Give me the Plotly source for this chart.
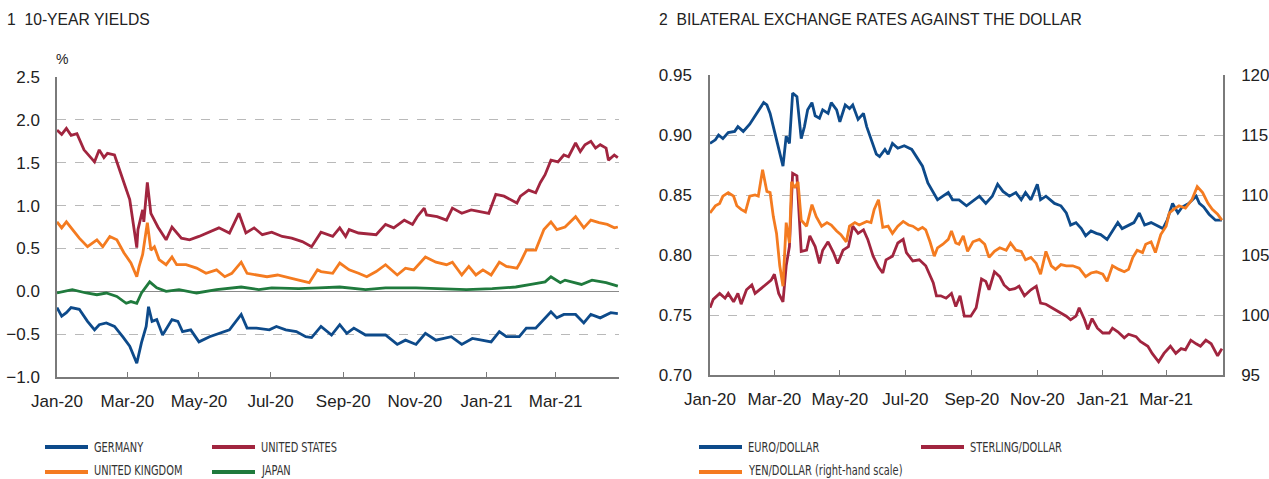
import json
import plotly.graph_objects as go

# ---------------- DATA ----------------
# Panel 1: 10-year yields (%)
us_dates = ["2020-01-01","2020-01-05","2020-01-09","2020-01-13","2020-01-18","2020-01-20","2020-01-24","2020-02-02",
            "2020-02-06","2020-02-10","2020-02-13","2020-02-19","2020-02-23","2020-02-27","2020-03-03","2020-03-05",
            "2020-03-09","2020-03-10","2020-03-14","2020-03-15","2020-03-18","2020-03-21","2020-03-24","2020-03-27",
            "2020-04-03","2020-04-08","2020-04-16","2020-04-23","2020-05-01","2020-05-10","2020-05-18","2020-05-27",
            "2020-06-04","2020-06-10","2020-06-17","2020-06-24","2020-07-02","2020-07-11","2020-07-19","2020-07-28",
            "2020-08-05","2020-08-13","2020-08-23","2020-08-29","2020-09-03","2020-09-06","2020-09-14","2020-09-29",
            "2020-10-07","2020-10-14","2020-10-23","2020-10-30","2020-11-03","2020-11-09","2020-11-11","2020-11-20",
            "2020-11-28","2020-12-03","2020-12-11","2020-12-19","2020-12-28","2021-01-03","2021-01-09","2021-01-16",
            "2021-01-27","2021-01-30","2021-02-06","2021-02-12","2021-02-16","2021-02-20","2021-02-25","2021-03-03",
            "2021-03-08","2021-03-12","2021-03-18","2021-03-22","2021-03-26","2021-03-31","2021-04-04","2021-04-08",
            "2021-04-13","2021-04-15","2021-04-20","2021-04-23"]
us_yield = [1.88,1.83,1.90,1.82,1.84,1.77,1.65,1.51,
            1.65,1.56,1.61,1.59,1.42,1.27,1.07,0.87,
            0.51,0.72,0.95,0.81,1.27,0.91,0.83,0.75,
            0.60,0.75,0.62,0.60,0.64,0.69,0.74,0.68,
            0.91,0.68,0.74,0.66,0.69,0.64,0.62,0.58,
            0.52,0.69,0.64,0.74,0.64,0.72,0.68,0.66,
            0.78,0.74,0.83,0.78,0.87,0.97,0.89,0.87,
            0.83,0.97,0.91,0.95,0.93,0.91,1.13,1.11,
            1.03,1.11,1.18,1.15,1.27,1.36,1.53,1.51,
            1.59,1.57,1.73,1.63,1.71,1.75,1.67,1.71,
            1.67,1.53,1.59,1.56]

uk_dates = ["2020-01-01","2020-01-05","2020-01-09","2020-01-13","2020-01-20","2020-01-27","2020-02-04","2020-02-09",
            "2020-02-15","2020-02-21","2020-02-27","2020-03-04","2020-03-09","2020-03-11","2020-03-14","2020-03-18",
            "2020-03-21","2020-03-24","2020-03-28","2020-04-03","2020-04-08","2020-04-12","2020-04-20","2020-04-29",
            "2020-05-07","2020-05-16","2020-05-23","2020-05-29","2020-06-06","2020-06-11","2020-06-19","2020-06-28",
            "2020-07-07","2020-07-15","2020-07-25","2020-08-03","2020-08-10","2020-08-13","2020-08-23","2020-08-29",
            "2020-09-06","2020-09-14","2020-09-21","2020-09-29","2020-10-07","2020-10-17","2020-10-24","2020-10-31",
            "2020-11-10","2020-11-19","2020-11-28","2020-12-03","2020-12-11","2020-12-17","2020-12-23","2020-12-29",
            "2021-01-05","2021-01-12","2021-01-18","2021-01-27","2021-01-30","2021-02-04","2021-02-12","2021-02-19",
            "2021-02-25","2021-03-02","2021-03-09","2021-03-18","2021-03-25","2021-03-31","2021-04-07","2021-04-14",
            "2021-04-20","2021-04-23"]
uk_yield = [0.81,0.74,0.81,0.74,0.62,0.52,0.60,0.52,
            0.64,0.60,0.45,0.33,0.17,0.29,0.43,0.80,
            0.48,0.52,0.37,0.31,0.40,0.31,0.31,0.27,
            0.21,0.25,0.17,0.21,0.34,0.21,0.19,0.17,
            0.19,0.16,0.13,0.10,0.25,0.23,0.21,0.33,
            0.25,0.21,0.17,0.23,0.31,0.19,0.27,0.25,
            0.40,0.34,0.31,0.34,0.19,0.29,0.19,0.25,
            0.19,0.34,0.29,0.27,0.34,0.48,0.48,0.72,
            0.81,0.72,0.75,0.87,0.74,0.83,0.80,0.78,
            0.74,0.75]

jp_dates = ["2020-01-01","2020-01-14","2020-01-26","2020-02-04","2020-02-12","2020-02-21","2020-02-29","2020-03-04",
            "2020-03-09","2020-03-13","2020-03-20","2020-03-26","2020-04-03","2020-04-14","2020-04-29","2020-05-16",
            "2020-06-06","2020-06-21","2020-07-02","2020-07-25","2020-08-11","2020-08-29","2020-09-20","2020-10-07",
            "2020-11-02","2020-11-24","2020-12-15","2021-01-06","2021-01-26","2021-02-08","2021-02-20","2021-02-25",
            "2021-03-05","2021-03-09","2021-03-23","2021-04-01","2021-04-13","2021-04-23"]
jp_yield = [-0.02,0.02,-0.02,-0.04,-0.02,-0.06,-0.14,-0.12,
            -0.14,-0.02,0.11,0.04,0.00,0.02,-0.02,0.02,
            0.05,0.02,0.04,0.03,0.04,0.05,0.02,0.04,
            0.04,0.03,0.02,0.03,0.05,0.08,0.11,0.17,
            0.10,0.13,0.08,0.13,0.10,0.06]

de_dates = ["2020-01-01","2020-01-05","2020-01-09","2020-01-13","2020-01-20","2020-01-27","2020-02-02","2020-02-06",
            "2020-02-12","2020-02-19","2020-02-26","2020-03-03","2020-03-09","2020-03-13","2020-03-17","2020-03-19",
            "2020-03-22","2020-03-26","2020-03-31","2020-04-08","2020-04-13","2020-04-17","2020-04-24","2020-05-01",
            "2020-05-10","2020-05-18","2020-05-27","2020-06-06","2020-06-11","2020-06-19","2020-06-30","2020-07-06",
            "2020-07-14","2020-07-23","2020-07-31","2020-08-05","2020-08-13","2020-08-22","2020-08-29","2020-09-04",
            "2020-09-10","2020-09-20","2020-10-07","2020-10-17","2020-10-24","2020-11-02","2020-11-10","2020-11-19",
            "2020-12-02","2020-12-11","2020-12-20","2020-12-28","2021-01-05","2021-01-12","2021-01-18","2021-01-29",
            "2021-02-04","2021-02-12","2021-02-19","2021-02-25","2021-03-02","2021-03-08","2021-03-18","2021-03-25",
            "2021-03-31","2021-04-08","2021-04-17","2021-04-23"]
de_yield = [-0.19,-0.29,-0.25,-0.19,-0.21,-0.35,-0.45,-0.39,
            -0.37,-0.41,-0.53,-0.64,-0.84,-0.60,-0.41,-0.18,
            -0.35,-0.33,-0.51,-0.33,-0.35,-0.47,-0.45,-0.59,
            -0.53,-0.49,-0.45,-0.27,-0.43,-0.43,-0.45,-0.41,
            -0.45,-0.47,-0.53,-0.54,-0.41,-0.51,-0.39,-0.49,
            -0.43,-0.51,-0.51,-0.62,-0.57,-0.62,-0.49,-0.57,
            -0.53,-0.62,-0.55,-0.57,-0.59,-0.47,-0.53,-0.53,
            -0.43,-0.43,-0.33,-0.24,-0.31,-0.27,-0.27,-0.37,
            -0.27,-0.31,-0.25,-0.26]

# Panel 2: bilateral exchange rates against the dollar
eur_dates = ["2020-01-01","2020-01-06","2020-01-09","2020-01-13","2020-01-18","2020-01-24","2020-01-27","2020-02-01",
             "2020-02-07","2020-02-12","2020-02-15","2020-02-20","2020-02-23","2020-02-26","2020-02-29","2020-03-03",
             "2020-03-06","2020-03-09","2020-03-12","2020-03-15","2020-03-18","2020-03-22","2020-03-26","2020-03-29",
             "2020-04-01","2020-04-05","2020-04-08","2020-04-12","2020-04-15","2020-04-20","2020-04-23","2020-04-28",
             "2020-05-01","2020-05-06","2020-05-10","2020-05-13","2020-05-18","2020-05-23","2020-05-26","2020-05-30",
             "2020-06-04","2020-06-07","2020-06-12","2020-06-15","2020-06-19","2020-06-24","2020-06-30","2020-07-07",
             "2020-07-11","2020-07-17","2020-07-22","2020-07-27","2020-07-31","2020-08-05","2020-08-10","2020-08-14",
             "2020-08-20","2020-08-27","2020-09-02","2020-09-08","2020-09-14","2020-09-20","2020-09-25","2020-09-30",
             "2020-10-06","2020-10-12","2020-10-17","2020-10-21","2020-10-26","2020-11-01","2020-11-04","2020-11-09",
             "2020-11-17","2020-11-23","2020-11-28","2020-12-02","2020-12-07","2020-12-12","2020-12-16","2020-12-21",
             "2020-12-26","2020-12-30","2021-01-05","2021-01-10","2021-01-15","2021-01-19","2021-01-26","2021-01-30",
             "2021-02-04","2021-02-09","2021-02-15","2021-02-19","2021-02-26","2021-03-02","2021-03-07","2021-03-12",
             "2021-03-16","2021-03-22","2021-03-29","2021-04-01","2021-04-05","2021-04-10","2021-04-16","2021-04-22"]
eur_usd = [0.893,0.896,0.900,0.897,0.902,0.903,0.907,0.903,
           0.909,0.916,0.920,0.927,0.925,0.918,0.907,0.896,
           0.885,0.874,0.899,0.893,0.935,0.932,0.897,0.907,
           0.921,0.927,0.916,0.914,0.921,0.918,0.927,0.921,
           0.911,0.925,0.922,0.925,0.913,0.918,0.907,0.896,
           0.884,0.882,0.888,0.884,0.893,0.889,0.891,0.888,
           0.882,0.874,0.860,0.852,0.846,0.849,0.852,0.846,
           0.846,0.841,0.845,0.849,0.843,0.849,0.859,0.853,
           0.849,0.852,0.846,0.852,0.846,0.859,0.846,0.849,
           0.843,0.841,0.835,0.825,0.827,0.822,0.816,0.820,
           0.818,0.817,0.813,0.820,0.827,0.822,0.825,0.827,
           0.835,0.825,0.827,0.825,0.822,0.829,0.843,0.835,
           0.840,0.843,0.849,0.843,0.840,0.834,0.829,0.829]

gbp_dates = ["2020-01-01","2020-01-04","2020-01-10","2020-01-15","2020-01-18","2020-01-23","2020-01-27","2020-01-30",
             "2020-02-04","2020-02-09","2020-02-12","2020-02-16","2020-02-21","2020-02-27","2020-03-01","2020-03-05",
             "2020-03-09","2020-03-12","2020-03-15","2020-03-18","2020-03-22","2020-03-26","2020-03-31","2020-04-03",
             "2020-04-08","2020-04-12","2020-04-15","2020-04-20","2020-04-25","2020-04-29","2020-05-04","2020-05-09",
             "2020-05-13","2020-05-18","2020-05-23","2020-05-27","2020-06-01","2020-06-06","2020-06-10","2020-06-13",
             "2020-06-19","2020-06-24","2020-06-29","2020-07-02","2020-07-08","2020-07-14","2020-07-20","2020-07-27",
             "2020-07-30","2020-08-03","2020-08-08","2020-08-13","2020-08-17","2020-08-21","2020-08-25","2020-08-31",
             "2020-09-05","2020-09-10","2020-09-14","2020-09-17","2020-09-22","2020-09-27","2020-10-01","2020-10-06",
             "2020-10-11","2020-10-15","2020-10-20","2020-10-26","2020-10-31","2020-11-04","2020-11-09","2020-11-15",
             "2020-11-21","2020-11-28","2020-12-02","2020-12-07","2020-12-10","2020-12-15","2020-12-18","2020-12-22",
             "2020-12-27","2021-01-01","2021-01-07","2021-01-10","2021-01-15","2021-01-21","2021-01-25","2021-02-01",
             "2021-02-05","2021-02-12","2021-02-16","2021-02-22","2021-02-27","2021-03-05","2021-03-10","2021-03-15",
             "2021-03-19","2021-03-24","2021-03-29","2021-04-02","2021-04-07","2021-04-12","2021-04-18","2021-04-22"]
gbp_usd = [0.756,0.763,0.768,0.764,0.768,0.761,0.768,0.759,
           0.771,0.775,0.768,0.771,0.774,0.779,0.784,0.768,
           0.761,0.791,0.807,0.868,0.866,0.803,0.804,0.816,
           0.807,0.793,0.804,0.811,0.802,0.793,0.804,0.807,
           0.824,0.818,0.821,0.813,0.799,0.790,0.785,0.796,
           0.799,0.810,0.813,0.802,0.795,0.796,0.791,0.777,
           0.766,0.766,0.764,0.768,0.757,0.766,0.749,0.749,
           0.756,0.780,0.778,0.771,0.786,0.782,0.775,0.771,
           0.772,0.774,0.766,0.771,0.774,0.760,0.759,0.756,
           0.753,0.749,0.746,0.749,0.756,0.746,0.738,0.747,
           0.739,0.735,0.735,0.739,0.736,0.731,0.734,0.732,
           0.728,0.724,0.718,0.711,0.718,0.724,0.718,0.722,
           0.721,0.729,0.726,0.724,0.729,0.726,0.716,0.722]

jpy_dates = ["2020-01-01","2020-01-06","2020-01-10","2020-01-13","2020-01-18","2020-01-23","2020-01-26","2020-01-30",
             "2020-02-03","2020-02-07","2020-02-12","2020-02-15","2020-02-19","2020-02-23","2020-02-26","2020-02-29",
             "2020-03-03","2020-03-06","2020-03-09","2020-03-12","2020-03-15","2020-03-17","2020-03-20","2020-03-23",
             "2020-03-26","2020-03-31","2020-04-05","2020-04-09","2020-04-14","2020-04-19","2020-04-23","2020-04-28",
             "2020-05-02","2020-05-07","2020-05-10","2020-05-15","2020-05-19","2020-05-26","2020-05-30","2020-06-02",
             "2020-06-06","2020-06-10","2020-06-15","2020-06-19","2020-06-24","2020-06-29","2020-07-04","2020-07-08",
             "2020-07-13","2020-07-17","2020-07-20","2020-07-24","2020-07-28","2020-07-31","2020-08-05","2020-08-10",
             "2020-08-13","2020-08-17","2020-08-20","2020-08-24","2020-08-28","2020-09-02","2020-09-08","2020-09-13",
             "2020-09-17","2020-09-22","2020-09-27","2020-10-03","2020-10-07","2020-10-12","2020-10-17","2020-10-21",
             "2020-10-26","2020-10-31","2020-11-04","2020-11-09","2020-11-14","2020-11-18","2020-11-23","2020-11-28",
             "2020-12-04","2020-12-10","2020-12-16","2020-12-21","2020-12-26","2021-01-01","2021-01-05","2021-01-10",
             "2021-01-16","2021-01-21","2021-01-25","2021-01-29","2021-02-02","2021-02-07","2021-02-10","2021-02-15",
             "2021-02-19","2021-02-24","2021-03-01","2021-03-04","2021-03-08","2021-03-13","2021-03-19","2021-03-25",
             "2021-03-30","2021-04-04","2021-04-09","2021-04-13","2021-04-18","2021-04-22"]
jpy_usd = [108.5,109.1,109.3,109.9,110.2,109.9,109.1,108.8,
           108.6,109.9,110.0,109.9,112.1,110.3,110.2,108.2,
           106.8,104.1,102.4,107.7,106.0,111.1,110.6,111.1,
           107.9,107.4,109.2,108.2,107.4,107.7,107.5,107.0,
           106.7,106.1,107.4,107.7,107.5,107.8,107.7,108.8,
           109.6,107.3,107.4,106.8,107.4,107.8,107.5,107.4,
           107.1,107.3,107.1,106.1,104.9,105.6,105.9,106.3,
           107.0,106.0,105.9,106.6,105.3,106.1,106.3,105.9,
           104.8,105.3,105.6,105.4,106.0,105.4,105.3,104.6,
           104.8,104.3,103.4,105.3,104.1,103.8,104.2,104.1,
           104.1,103.9,103.2,103.5,103.6,103.4,102.8,104.1,
           103.8,103.6,103.8,104.8,105.4,105.2,105.9,106.1,
           105.2,106.7,107.4,108.5,108.8,109.1,108.9,109.6,
           110.7,110.2,109.3,108.8,108.4,107.9]

tick_months = ["2020-01-01","2020-03-01","2020-05-01","2020-07-01","2020-09-01","2020-11-01","2021-01-01","2021-03-01"]
tick_text = ["Jan-20","Mar-20","May-20","Jul-20","Sep-20","Nov-20","Jan-21","Mar-21"]

legend_left = ["GERMANY", "UNITED STATES", "UNITED KINGDOM", "JAPAN"]
legend_right = ["EURO/DOLLAR", "STERLING/DOLLAR", "YEN/DOLLAR (right-hand scale)"]

# ---------------- STYLE ----------------
BLUE = "#0d4a8a"
RED = "#a1253f"
ORANGE = "#f47b20"
GREEN = "#1f7a3d"
W, H = 1269, 479
FONT = "Liberation Sans, Arial, Helvetica, sans-serif"
LEGFONT = "DejaVu Sans Condensed, Liberation Sans Narrow, Arial Narrow, sans-serif"
TXT = "#222222"
AXC = "#7a7a7a"
GRID = "#b9b9b9"
LW = 2.8

fig = go.Figure()

for d, v, c in [(uk_dates, uk_yield, ORANGE), (jp_dates, jp_yield, GREEN),
                (de_dates, de_yield, BLUE), (us_dates, us_yield, RED)]:
    fig.add_trace(go.Scatter(x=d, y=v, mode="lines", line=dict(color=c, width=LW),
                             xaxis="x", yaxis="y", showlegend=False, hoverinfo="skip"))

fig.add_trace(go.Scatter(x=gbp_dates, y=gbp_usd, mode="lines", line=dict(color=RED, width=LW),
                         xaxis="x2", yaxis="y2", showlegend=False, hoverinfo="skip"))
fig.add_trace(go.Scatter(x=eur_dates, y=eur_usd, mode="lines", line=dict(color=BLUE, width=LW),
                         xaxis="x2", yaxis="y2", showlegend=False, hoverinfo="skip"))
fig.add_trace(go.Scatter(x=jpy_dates, y=jpy_usd, mode="lines", line=dict(color=ORANGE, width=LW),
                         xaxis="x2", yaxis="y3", showlegend=False, hoverinfo="skip"))


def px(x):
    return x / W


def py(y):
    return 1 - y / H


xcommon = dict(type="date", tickmode="array", tickvals=tick_months, ticktext=tick_text,
               showgrid=False, showline=True, linecolor=AXC, linewidth=1.5,
               ticks="inside", ticklen=5, tickcolor=AXC, tickwidth=1,
               tickfont=dict(family=FONT, size=17, color=TXT), ticklabelstandoff=8,
               zeroline=False, fixedrange=True, automargin=False)
ycommon = dict(showgrid=True, gridcolor=GRID, griddash="dash", gridwidth=1,
               showline=True, linecolor=AXC, linewidth=1.5,
               ticks="outside", tickcolor="rgba(0,0,0,0)",
               tickfont=dict(family=FONT, size=17, color=TXT), fixedrange=True, automargin=False)

fig.update_layout(
    width=W, height=H, margin=dict(l=0, r=0, t=0, b=0, autoexpand=False),
    paper_bgcolor="white", plot_bgcolor="white",
    xaxis=dict(domain=[px(57), px(619)], range=["2020-01-01", "2021-04-24"], anchor="y", **xcommon),
    yaxis=dict(domain=[py(377), py(77)], range=[-1.0, 2.5], dtick=0.5, tick0=-1, tickformat=".1f",
               anchor="x", zeroline=True, zerolinecolor="#8a8a8a", zerolinewidth=1.2, ticklen=12, **ycommon),
    xaxis2=dict(domain=[px(710), px(1223)], range=["2020-01-01", "2021-04-23"], anchor="y2", **xcommon),
    yaxis2=dict(domain=[py(375), py(75)], range=[0.70, 0.95], dtick=0.05, tick0=0.7, tickformat=".2f",
                anchor="x2", zeroline=False, ticklen=13, **ycommon),
    yaxis3=dict(range=[95, 120], dtick=5, tick0=95, overlaying="y2", side="right", anchor="x2",
                showgrid=False, showline=True, linecolor=AXC, linewidth=1.5, zeroline=False,
                ticks="outside", ticklen=13, tickcolor="rgba(0,0,0,0)", automargin=False,
                tickfont=dict(family=FONT, size=17, color=TXT), fixedrange=True),
)

annotations = [
    dict(text="1  10-YEAR YIELDS", x=px(5), y=py(19), xanchor="left", yanchor="middle",
         font=dict(family=FONT, size=15.7, color=TXT)),
    dict(text="2  BILATERAL EXCHANGE RATES AGAINST THE DOLLAR", x=px(657), y=py(19), xanchor="left",
         yanchor="middle", font=dict(family=FONT, size=15.7, color=TXT)),
    dict(text="%", x=px(54), y=py(59), xanchor="left", yanchor="middle",
         font=dict(family=FONT, size=14, color=TXT)),
]
shapes = []
legend_pos = [(BLUE, 45, 447), (RED, 212, 447), (ORANGE, 45, 472), (GREEN, 212, 472),
              (BLUE, 699, 447), (RED, 921, 447), (ORANGE, 699, 472)]
for label, (col, lx, ly) in zip(legend_left + legend_right, legend_pos):
    shapes.append(dict(type="line", xref="paper", yref="paper", x0=px(lx), x1=px(lx + 43),
                       y0=py(ly), y1=py(ly), line=dict(color=col, width=4)))
    annotations.append(dict(text=label, x=px(lx + 47), y=py(min(ly, 470)), xanchor="left", yanchor="middle",
                            font=dict(family=LEGFONT, size=14, color="#333333")))
for a in annotations:
    a.update(xref="paper", yref="paper", showarrow=False)

fig.update_layout(annotations=annotations, shapes=shapes)

# page reset + condense legend labels horizontally (the original uses a condensed typeface)
post = """
(function(){
  document.documentElement.style.margin = '0';
  document.body.style.margin = '0';
  document.body.style.padding = '0';
  document.body.style.overflow = 'hidden';
  var labels = %s;
  var k = 0.78;
  var gd = document.getElementById('{plot_id}');
  function condense(){
    var els = gd.querySelectorAll('text.annotation-text');
    els.forEach(function(t){
      if (labels.indexOf(t.textContent) < 0 || t.getAttribute('data-cond')) return;
      var len = t.getComputedTextLength();
      var x = parseFloat(t.getAttribute('x')) || 0;
      t.setAttribute('text-anchor', 'start');
      t.setAttribute('x', x - len / 2);
      t.setAttribute('textLength', len * k);
      t.setAttribute('lengthAdjust', 'spacingAndGlyphs');
      t.setAttribute('data-cond', '1');
    });
  }
  condense();
  gd.on('plotly_afterplot', condense);
})();
""" % json.dumps(legend_left + legend_right)

fig.write_html("out.html", post_script=post, config={"displayModeBar": False})
